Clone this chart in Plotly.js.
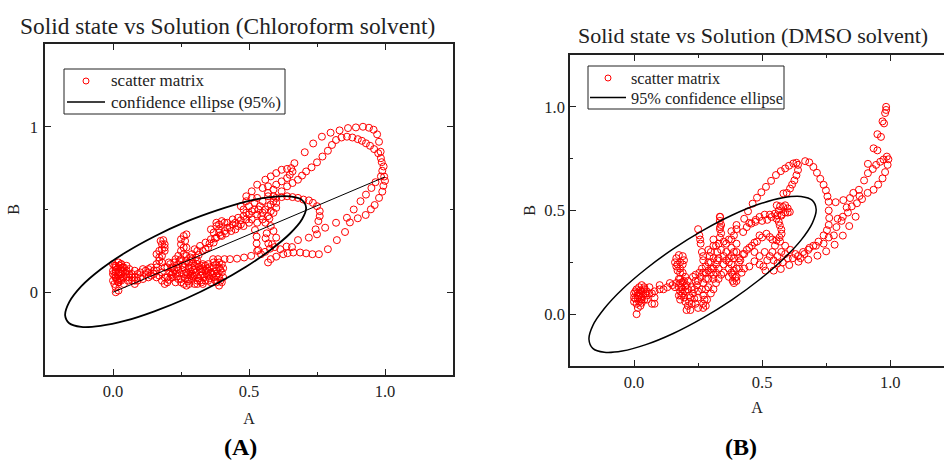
<!DOCTYPE html>
<html><head><meta charset="utf-8">
<script src="https://cdn.plot.ly/plotly-3.0.1.min.js"></script>
<style>html,body{margin:0;padding:0;background:#fff;overflow:hidden}</style></head>
<body><div id="chart" style="width:944px;height:464px"></div>
<script>
const chloroformPoints = [
[.01,.0],[.02,.01],[.01,.03],[.02,.06],[.0,.07],[.01,.09],[.0,.11],[.02,.12],[.0,.13],[.01,.15],[.0,.17],[.02,.18],[.03,.17],[.01,.16],[.03,.14],[.01,.12],[.03,.11],[.01,.09],[.03,.08],[.02,.06],[.04,.05],[.03,.07],[.05,.09],[.03,.11],[.05,.13],[.04,.15],[.03,.17],[.05,.16],[.06,.14],[.05,.11],[.06,.09],[.07,.07],[.08,.05],
[.005,.05],[.015,.08],[.005,.1],[.02,.105],[.01,.135],[.02,.15],[.005,.16],[.025,.16],[.035,.125],[.04,.095],[.025,.085],[.045,.12],[.035,.15],[.055,.07],[.015,.07],
[.06,.11],[.07,.09],[.08,.07],[.09,.07],[.08,.09],[.07,.11],[.08,.13],[.09,.11],[.1,.09],[.11,.08],[.1,.12],[.11,.14],[.12,.13],[.12,.11],[.13,.09],[.14,.1],[.13,.12],[.13,.14],[.14,.15],[.15,.13],[.15,.11],[.16,.09],[.17,.1],[.16,.13],[.16,.15],[.16,.17],[.17,.19],[.17,.21],[.16,.23],[.17,.25],[.18,.26],[.19,.27],[.18,.29],[.175,.31],[.185,.315],[.19,.29],[.19,.25],[.18,.22],[.18,.18],[.19,.15],[.18,.12],[.19,.09],[.18,.07],[.19,.05],[.2,.06],[.2,.09],[.21,.12],[.2,.15],[.21,.17],[.22,.15],[.22,.12],[.22,.09],[.23,.06],[.24,.08],[.23,.11],[.24,.14],[.24,.17],[.25,.2],[.24,.22],[.25,.25],[.26,.27],[.25,.29],[.25,.32],[.26,.34],[.27,.35],[.265,.31],[.27,.27],[.26,.23],[.27,.19],[.26,.15],[.26,.11],[.25,.08],[.26,.05],[.27,.04],[.28,.05],[.28,.08],[.27,.12],[.28,.15],[.28,.18],[.29,.15],[.29,.11],[.29,.08],[.3,.05],[.31,.07],[.3,.1],[.3,.14],[.31,.17],[.32,.14],[.32,.1],[.32,.07],[.33,.05],[.34,.07],[.33,.11],[.33,.14],[.34,.16],[.35,.13],[.35,.1],[.35,.07],[.36,.06],[.37,.09],[.36,.12],[.37,.15],[.38,.17],[.38,.13],[.38,.1],[.38,.06],[.39,.04],[.4,.06],[.39,.09],[.4,.12],[.39,.15],[.4,.17],[.39,.18],[.37,.18],[.35,.17],[.33,.17],[.31,.19],[.29,.2],[.27,.22],
[.205,.075],[.215,.105],[.225,.135],[.235,.095],[.245,.115],[.255,.135],[.265,.085],[.275,.105],[.285,.125],[.295,.095],[.305,.12],[.315,.085],[.325,.125],[.335,.09],[.345,.115],[.355,.15],[.365,.105],[.375,.075],[.385,.115],[.395,.135],[.395,.07],[.405,.09],[.405,.145],[.345,.145],[.315,.155],[.295,.175],[.265,.17],[.235,.15],[.215,.145],[.205,.18],[.225,.18],[.245,.19],[.255,.165],[.3,.16],[.325,.16],[.355,.085],[.31,.05],[.275,.065],[.25,.06],[.285,.1],[.34,.13],[.37,.125],[.325,.06],[.295,.135],[.23,.2],[.285,.21],[.305,.21],
[.29,.23],[.31,.25],[.32,.28],[.33,.25],[.35,.27],[.34,.3],[.36,.32],[.37,.3],[.38,.33],[.39,.36],[.4,.34],[.41,.37],[.42,.39],[.41,.42],[.39,.41],[.38,.42],[.39,.38],[.37,.36],[.36,.38],[.38,.4],[.4,.43],[.42,.42],[.44,.44],[.45,.42],[.43,.39],[.45,.38],[.47,.41],[.46,.45],[.48,.46],[.49,.44],[.48,.4],[.5,.42],[.5,.47],[.52,.5],[.53,.47],[.51,.44],[.53,.42],[.55,.44],[.55,.48],[.54,.52],[.52,.54],[.5,.52],[.48,.5],[.47,.52],[.49,.55],[.51,.57],[.53,.57],[.55,.55],[.57,.52],[.58,.49],[.57,.46],[.59,.48],[.6,.51],[.59,.55],[.57,.58],
[.3,.26],[.315,.225],[.34,.26],[.355,.295],[.375,.325],[.395,.345],[.415,.355],[.435,.37],[.44,.41],[.46,.4],[.47,.435],[.49,.48],[.51,.49],[.535,.5],[.545,.46],[.56,.5],[.58,.53],[.6,.54],
[.49,.58],[.51,.61],[.53,.65],[.56,.68],[.58,.7],[.6,.72],[.62,.74],[.64,.745],[.655,.75],[.66,.73],[.65,.71],[.64,.69],[.62,.67],[.6,.65],[.59,.62],[.57,.6],[.55,.63],[.57,.64],[.59,.58],
[.6,.57],[.62,.575],[.64,.58],[.66,.575],[.68,.57],[.7,.56],[.72,.555],[.735,.54],[.75,.52],[.76,.49],[.76,.46],[.755,.43],[.745,.38],[.72,.33],[.68,.315],[.658,.273],[.638,.276],[.615,.26],[.595,.273],[.577,.263],
[.57,.18],[.58,.2],[.6,.215],[.626,.23],[.642,.236],[.663,.24],[.688,.24],[.71,.235],[.733,.23],[.757,.23],[.79,.26],[.823,.315],[.853,.364],[.871,.422],[.9,.447],[.929,.467],[.948,.501],[.962,.527],[.978,.57],[.99,.608],[.994,.643],[1.0,.673],[.997,.699],[.99,.734],[.988,.786],[.984,.849],[.978,.909],[.971,.954],[.958,.982],[.941,.994],[.919,1.0],[.893,.996],[.864,.992],[.833,.978],[.8,.964],[.768,.94],[.736,.899],[.705,.846],[.667,.78],
[.62,.61],[.64,.64],[.66,.66],[.68,.68],[.695,.705],[.71,.73],[.73,.755],[.75,.785],[.77,.82],[.79,.855],[.805,.89],[.82,.92],[.84,.935],[.86,.94],[.88,.935],[.9,.925],[.915,.915],[.93,.9],[.945,.885],[.96,.865],[.975,.84],[.985,.81],[.995,.76],[.985,.7],[.965,.665],[.95,.63],[.93,.59],[.91,.55],[.885,.5],[.86,.45],[.82,.42],[.78,.39],[.75,.35],
[.53,.25],[.508,.22],[.482,.21],[.456,.203],[.43,.2],[.41,.2],[.386,.2],[.368,.2],
[.522,.376],[.528,.336],[.528,.295],[.534,.255],[.544,.23],[.559,.244],[.571,.295],[.561,.326],[.565,.356],[.58,.4],[.59,.37],[.6,.33],[.585,.29],[.56,.42],[.575,.445]
];
const chloroformEllipseX = [.710,.695,.651,.580,.489,.382,.267,.152,.046,-.046,-.117,-.161,-.176,-.161,-.117,-.046,.046,.152,.267,.382,.489,.580,.651,.695,.710];
const chloroformEllipseY = [.510,.557,.579,.575,.548,.495,.425,.337,.240,.137,.035,-.060,-.140,-.187,-.209,-.203,-.172,-.115,-.039,.053,.154,.257,.355,.441,.510];
const chloroformAxisX = [0,1];
const chloroformAxisY = [0,.697];

const dmsoPoints = [
[.01,.0],[.015,.03],[.025,.04],[.02,.06],[.03,.07],[.02,.09],[.0,.08],[.0,.06],[.01,.05],[.0,.1],[.01,.12],[.02,.13],[.03,.14],[.04,.13],[.03,.11],[.02,.1],[.03,.08],[.04,.07],[.05,.09],[.05,.11],[.06,.13],[.06,.1],[.05,.07],[.07,.05],[.08,.05],[.08,.08],[.07,.1],[.08,.11],[.1,.12],[.1,.14],[.115,.12],[.13,.13],[.14,.15],[.15,.14],[.16,.13],[.165,.15],[.175,.17],
[.005,.075],[.015,.09],[.005,.11],[.015,.075],[.025,.115],[.035,.095],[.045,.1],[.04,.12],[.015,.105],[.03,.055],
[.18,.2],[.17,.21],[.165,.23],[.16,.25],[.165,.27],[.175,.285],[.19,.28],[.195,.26],[.19,.24],[.18,.25],[.17,.24],[.18,.22],[.19,.2],[.2,.18],
[.195,.16],[.18,.15],[.175,.13],[.18,.11],[.19,.1],[.175,.09],[.18,.07],[.195,.08],[.2,.11],[.205,.14],[.21,.12],[.2,.06],[.21,.04],[.205,.02],[.22,.02],[.225,.05],[.22,.08],[.23,.1],[.225,.13],[.24,.16],[.23,.18],[.245,.14],[.25,.11],[.25,.08],[.24,.05],[.25,.03],[.27,.03],[.28,.04],[.285,.07],[.27,.09],[.27,.05],[.265,.12],[.27,.15],[.26,.18],[.28,.2],[.29,.17],[.29,.13],[.3,.1],[.31,.12],[.32,.15],[.31,.17],[.3,.2],[.28,.23],[.27,.26],[.265,.3],[.26,.34],[.255,.38],[.25,.41],[.258,.36],[.27,.28],[.29,.25],[.3,.22],[.32,.2],[.33,.17],[.34,.19],[.32,.24],[.31,.27],[.3,.3],[.31,.33],[.31,.36],[.33,.34],[.335,.37],[.335,.41],[.335,.45],[.335,.47],[.34,.43],[.34,.39],[.35,.35],[.34,.31],[.33,.27],[.35,.24],[.37,.22],[.38,.2],[.37,.18],[.385,.16],[.39,.15],[.4,.16],[.4,.18],[.39,.21],[.38,.24],[.37,.27],[.36,.3],[.38,.32],[.4,.34],[.4,.3],[.39,.27],[.41,.25],[.4,.22],[.42,.2],
[.185,.09],[.185,.13],[.18,.17],[.19,.12],[.19,.155],[.2,.135],[.21,.16],[.215,.09],[.215,.06],[.235,.075],[.235,.12],[.24,.19],[.25,.16],[.255,.2],[.265,.22],[.27,.2],[.28,.17],[.28,.12],[.275,.07],[.29,.21],[.3,.25],[.31,.22],[.325,.26],[.325,.3],[.32,.33],[.35,.28],[.36,.26],[.37,.25],[.38,.28],[.39,.3],[.36,.34],[.38,.36],[.385,.19],[.395,.175],[.41,.22],[.35,.2],[.33,.22],[.31,.19],[.295,.28],[.29,.31],
[.37,.36],[.39,.38],[.4,.41],[.426,.396],[.44,.42],[.458,.437],[.475,.455],[.49,.469],[.51,.48],[.53,.48],[.55,.485],[.565,.5],[.582,.517],[.6,.51],[.608,.493],[.59,.49],[.575,.48],[.556,.461],[.565,.445],[.569,.428],[.575,.408],[.576,.388],[.568,.37],[.556,.356],[.54,.36],[.53,.372],[.517,.388],[.5,.37],[.48,.35],[.46,.33],[.44,.31],[.425,.29],[.41,.27],
[.445,.496],[.463,.533],[.48,.562],[.497,.588],[.515,.614],[.535,.643],[.554,.671],[.573,.69],[.59,.703],[.605,.716],[.622,.727],[.634,.73],[.64,.72],[.64,.695],[.634,.67],[.626,.645],[.617,.625],[.609,.606],[.596,.585],[.583,.582],[.57,.52],[.557,.525],[.59,.525],[.6,.49],[.575,.475],[.56,.477],[.537,.469],[.52,.455],[.5,.45],[.473,.445],[.45,.44],[.43,.46],[.4,.43],[.38,.4],[.336,.469],[.336,.42],
[.668,.738],[.684,.732],[.7,.71],[.714,.682],[.727,.653],[.74,.624],[.749,.597],[.755,.568],[.76,.542],[.76,.5],[.762,.464],[.76,.43],[.753,.405],[.74,.38],[.72,.35],[.7,.33],[.68,.31],[.665,.29],[.65,.27],[.63,.29],[.61,.31],[.59,.33],[.57,.35],
[.55,.33],[.54,.3],[.56,.28],[.575,.3],[.59,.29],[.6,.27],[.58,.25],[.56,.245],[.545,.26],[.53,.28],[.52,.26],[.505,.23],[.49,.24],[.47,.255],[.45,.23],[.43,.22],[.415,.26],[.43,.29],[.45,.32],[.47,.3],[.49,.28],[.51,.3],[.47,.345],[.49,.38],
[.513,.21],[.545,.21],[.573,.218],[.606,.237],[.642,.253],[.68,.263],[.716,.282],[.75,.303],[.783,.335],[.815,.379],[.79,.42],[.81,.45],[.795,.46],[.84,.425],[.865,.47],[.83,.515],[.817,.55],[.787,.54],[.843,.56],[.856,.585],[.878,.6],[.898,.645],[.913,.68],[.913,.725],[.935,.8],[.95,.79],[.95,.868],[.964,.855],[.97,.93],[.976,.92],[.98,.97],[.984,.985],[.984,1.0],
[.932,.7],[.945,.72],[.961,.735],[.974,.746],[.987,.76],[.993,.747],[.99,.72],[.98,.685],[.97,.655],[.953,.625],[.935,.6],[.912,.585],[.89,.555],[.88,.57],[.87,.535],[.85,.52],[.835,.49],[.815,.47],[.78,.38],[.76,.37],[.74,.34],[.71,.33],[.685,.32],[.66,.3],[.64,.28],[.62,.27]
];
const dmsoEllipseX = [.711,.696,.652,.581,.489,.382,.2675,.153,.046,-.046,-.116,-.161,-.176,-.161,-.116,-.046,.046,.153,.2675,.382,.489,.581,.652,.696,.711];
const dmsoEllipseY = [.505,.549,.568,.562,.531,.477,.403,.315,.218,.120,.027,-.055,-.121,-.165,-.184,-.178,-.147,-.093,-.019,.069,.166,.264,.357,.439,.505];

const seriesNames = ['scatter matrix','confidence ellipse (95%)','95% confidence ellipse'];

const serif = '"Liberation Serif","Times New Roman",serif';
const ink = '#222';
const red = '#ff0000';
const W = 944, H = 464;
const px = v => v/W, py = v => 1-v/H;
function axisX(left, right, extra){
  return Object.assign({domain:[left/W, right/W], tick0:0, dtick:.5, tickformat:'.1f', ticks:'inside', ticklen:6, tickwidth:1,
    tickcolor:ink, linecolor:ink, linewidth:1.5, mirror:'ticks', showline:true, showgrid:false, zeroline:false,
    minor:{dtick:.25, ticks:'inside', ticklen:3, tickwidth:1, tickcolor:ink, showgrid:false},
    tickfont:{family:serif,size:16.5,color:ink}}, extra);
}
function axisY(top, bottom, extra){
  return Object.assign({domain:[(H-bottom)/H,(H-top)/H], tick0:0, ticks:'inside', ticklen:6, tickwidth:1,
    tickcolor:ink, linecolor:ink, linewidth:1.5, showline:true, showgrid:false, zeroline:false,
    tickfont:{family:serif,size:16.5,color:ink}}, extra);
}
const axisTitle = (text, standoff) => ({text:text, font:{family:serif,size:16,color:ink}, standoff:standoff});
const scatter = (pts, xa, ya) => ({x:pts.map(p=>p[0]), y:pts.map(p=>p[1]), xaxis:xa, yaxis:ya, type:'scatter', mode:'markers',
  name:seriesNames[0], marker:{symbol:'circle-open', color:red, size:7, line:{width:1,color:red}}});
const data = [
  scatter(chloroformPoints,'x','y'),
  {x:chloroformEllipseX, y:chloroformEllipseY, type:'scatter', mode:'lines', name:seriesNames[1], line:{color:'#000',width:1.8,shape:'spline',smoothing:1}},
  {x:chloroformAxisX, y:chloroformAxisY, type:'scatter', mode:'lines', name:'major axis', line:{color:'#000',width:1}},
  scatter(dmsoPoints,'x2','y2'),
  {x:dmsoEllipseX, y:dmsoEllipseY, xaxis:'x2', yaxis:'y2', type:'scatter', mode:'lines', name:seriesNames[2], line:{color:'#000',width:1.5,shape:'spline',smoothing:1}}
];
const caption = (text,x,y,size,bold) => ({text: bold?'<b>'+text+'</b>':text, xref:'paper', yref:'paper', x:px(x), y:py(y), xanchor:'center', yanchor:'middle', showarrow:false,
  font:{family:serif,size:size,color:bold?'#000':ink}});
const keyText = (text,x,y,size) => ({text:text, xref:'paper', yref:'paper', x:px(x), y:py(y), xanchor:'left', yanchor:'middle', showarrow:false, borderpad:0,
  font:{family:serif,size:size,color:ink}});
const paperShape = (type,x0,y0,x1,y1,line,fill) => ({type:type, xref:'paper', yref:'paper', x0:px(x0), x1:px(x1), y0:py(y0), y1:py(y1), line:line, fillcolor:fill||'rgba(0,0,0,0)', layer:'above'});
const layout = {
  width:W, height:H, margin:{l:0,r:0,t:0,b:0}, paper_bgcolor:'#fff', plot_bgcolor:'#fff', showlegend:false,
  xaxis:axisX(45,453,{range:[-.25,1.25], anchor:'y', title:axisTitle('A',13)}),
  yaxis:axisY(44,375,{range:[-.5,1.5], dtick:1, anchor:'x', mirror:'ticks', tickformat:'d', ticklabelstandoff:2, title:axisTitle('B',6), minor:{dtick:.5,ticks:'inside',ticklen:3,tickwidth:1,tickcolor:ink,showgrid:false}}),
  xaxis2:axisX(570,944,{range:[-.25,1.21], anchor:'y2', title:axisTitle('A',11)}),
  yaxis2:axisY(55,366,{range:[-.25,1.25], dtick:.5, tickformat:'.1f', anchor:'x2', title:axisTitle('B',5), minor:{dtick:.25,ticks:'inside',ticklen:3,tickwidth:1,tickcolor:ink,showgrid:false}}),
  shapes:[
    paperShape('rect',64,69,285,114,{color:ink,width:1},'#fff'),
    paperShape('circle',83,78,89,84,{color:red,width:1}),
    paperShape('line',67,102,105,102,{color:'#000',width:1.6}),
    paperShape('rect',588,66,784,109,{color:ink,width:1},'#fff'),
    paperShape('circle',605,75,611,81,{color:red,width:1}),
    paperShape('line',590,97.5,626,97.5,{color:'#000',width:1.6})
  ],
  annotations:[
    caption('Solid state vs Solution (Chloroform solvent)',227,26,23.4),
    caption('Solid state vs Solution (DMSO solvent)',753,35,22),
    caption('(A)',240,447,24,true),
    caption('(B)',741,447,24,true),
    keyText(seriesNames[0],110,81,17),
    keyText(seriesNames[1],110,102,17),
    keyText(seriesNames[0],630,78,16.3),
    keyText(seriesNames[2],630,98,16.3)
  ]
};
Plotly.newPlot('chart', data, layout, {displayModeBar:false});
</script></body></html>
